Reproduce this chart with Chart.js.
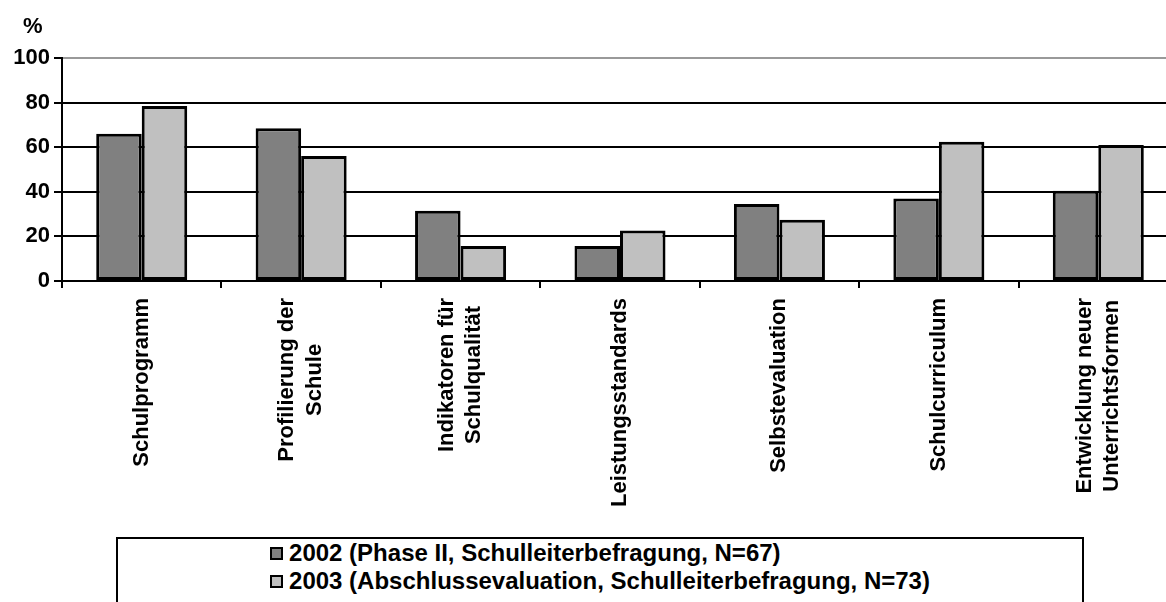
<!DOCTYPE html>
<html>
<head>
<meta charset="utf-8">
<script src="https://cdn.jsdelivr.net/npm/chart.js@4/dist/chart.umd.min.js"></script>
<style>
html,body{margin:0;padding:0;background:#fff;overflow:hidden;width:1166px;height:602px;}
#c{position:absolute;left:0;top:0;}
#legend{position:absolute;left:116px;top:537px;width:968px;height:90px;box-sizing:border-box;border:2px solid #000;background:#fff;
  display:flex;justify-content:center;align-items:flex-start;font:bold 24px "Liberation Sans",Arial,sans-serif;color:#000;}
#legend .inner{padding-top:0px;}
#legend .item{display:flex;align-items:center;height:28px;line-height:28px;white-space:nowrap;}
#legend .box{width:13px;height:13px;border:2px solid #000;box-sizing:border-box;margin-right:6px;}
</style>
</head>
<body>
<canvas id="c" width="1178" height="602"></canvas>
<div id="legend"><div class="inner" id="legendInner"></div></div>
<script>
const categories = [
  'Schulprogramm',
  ['Profilierung der', 'Schule'],
  ['Indikatoren für', 'Schulqualität'],
  'Leistungsstandards',
  'Selbstevaluation',
  'Schulcurriculum',
  ['Entwicklung neuer', 'Unterrichtsformen']
];
const seriesLabels = [
  '2002 (Phase II, Schulleiterbefragung, N=67)',
  '2003 (Abschlussevaluation, Schulleiterbefragung, N=73)'
];
const values2002 = [66, 68.5, 31.5, 15.7, 34.5, 37, 40.5];
const values2003 = [78.5, 56, 15.7, 22.6, 27.5, 62.4, 61];
const yTicks = [0, 20, 40, 60, 80, 100];
const unitLabel = '%';
const seriesColors = ['#808080', '#c0c0c0'];

const FONT = '"Liberation Sans", Arial, sans-serif';

const labelFix = {
  id: 'labelFix',
  beforeDraw(chart) {
    const s = chart.scales.x;
    const items = s.getLabelItems();
    const ctx = chart.ctx;
    items.forEach(it => {
      if (it._fixed) return;
      it._fixed = true;
      const lines = Array.isArray(it.label) ? it.label : [it.label];
      if (lines.length > 1) {
        ctx.save();
        ctx.font = it.font.string;
        const W = Math.max(...lines.map(l => ctx.measureText(l).width));
        ctx.restore();
        it.options.translation[0] -= (lines.length - 1) * it.font.lineHeight / 2;
        it.options.translation[1] += W / 2;
        it.options.textAlign = 'center';
      }
    });
  },
  afterDraw(chart) {
    const ctx = chart.ctx;
    ctx.save();
    ctx.font = 'bold 22px ' + FONT;
    ctx.fillStyle = '#000';
    ctx.textBaseline = 'alphabetic';
    ctx.fillText(unitLabel, 23, 33);
    ctx.restore();
  }
};

new Chart(document.getElementById('c'), {
  type: 'bar',
  data: {
    labels: categories,
    datasets: [
      { label: seriesLabels[0], data: values2002, backgroundColor: seriesColors[0], borderColor: '#000', borderWidth: 3, borderSkipped: false },
      { label: seriesLabels[1], data: values2003, backgroundColor: seriesColors[1], borderColor: '#000', borderWidth: 3, borderSkipped: false }
    ]
  },
  options: {
    responsive: false,
    animation: false,
    devicePixelRatio: 1,
    categoryPercentage: 0.571,
    barPercentage: 1.0,
    layout: { padding: { top: 58, left: 0, right: 0, bottom: 0 } },
    plugins: { legend: { display: false }, tooltip: { enabled: false } },
    scales: {
      x: {
        afterFit(scale) { scale.height = 602 - 281; },
        grid: { display: true, drawOnChartArea: false, drawTicks: true, tickLength: 7, color: '#000', lineWidth: 2, offset: true },
        border: { display: true, color: '#000', width: 2 },
        ticks: {
          autoSkip: false, minRotation: 90, maxRotation: 90, padding: 10,
          color: '#000',
          font: { family: FONT, size: 22, weight: 'bold', lineHeight: 1.25 }
        }
      },
      y: {
        min: 0, max: 100,
        afterFit(scale) { scale.width = 62; },
        afterBuildTicks(scale) { scale.ticks = yTicks.map(v => ({ value: v })); },
        grid: {
          drawTicks: true, tickLength: 8, lineWidth: 2,
          color: ctx => (ctx.index === yTicks.length - 1) ? '#999999' : '#000000',
          tickColor: '#000'
        },
        border: { display: true, color: '#000', width: 2 },
        ticks: {
          padding: 4, color: '#000',
          font: { family: FONT, size: 22, weight: 'bold' }
        }
      }
    }
  },
  plugins: [labelFix]
});

const inner = document.getElementById('legendInner');
seriesLabels.forEach((lab, i) => {
  const row = document.createElement('div');
  row.className = 'item';
  const b = document.createElement('span');
  b.className = 'box';
  b.style.background = seriesColors[i];
  const t = document.createElement('span');
  t.textContent = lab;
  row.appendChild(b); row.appendChild(t);
  inner.appendChild(row);
});
</script>
</body>
</html>
